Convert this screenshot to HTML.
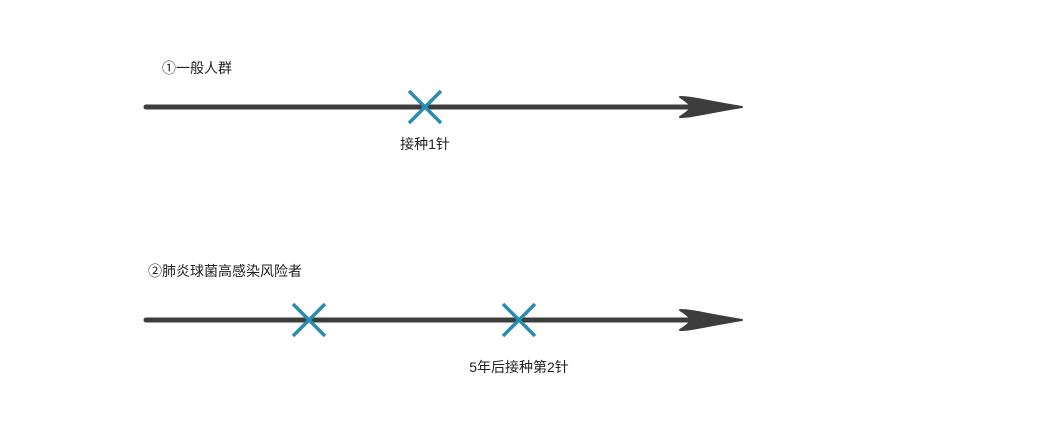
<!DOCTYPE html>
<html><head><meta charset="utf-8"><style>
html,body{margin:0;padding:0;background:#fff;width:1040px;height:435px;overflow:hidden}
svg text{font-family:"Liberation Sans","Noto Sans CJK SC",sans-serif;font-size:14px;fill:#222}
</style></head><body>
<svg width="1040" height="435" viewBox="0 0 1040 435">
<g stroke="#3d3d3d" stroke-width="5" stroke-linecap="round">
<line x1="146" y1="107" x2="690" y2="107"/>
<line x1="146" y1="320" x2="690" y2="320"/>
</g>
<g fill="#3d3d3d" stroke="#3d3d3d" stroke-width="2" stroke-linejoin="round">
<path d="M680,97 C692,97 705,101 742,107 C705,113 692,117 680,117 Q688,112 692,107 Q688,102 680,97 Z"/>
<path d="M680,310 C692,310 705,314 742,320 C705,326 692,330 680,330 Q688,325 692,320 Q688,315 680,310 Z"/>
</g>
<g stroke="#2a8cb4" stroke-width="3.5">
<path d="M409,91 L441,123 M441,91 L409,123"/>
<path d="M293,304 L325,336 M325,304 L293,336"/>
<path d="M503,304 L535,336 M535,304 L503,336"/>
</g>
<text x="162" y="73">①一般人群</text>
<text x="425" y="149" text-anchor="middle">接种1针</text>
<text x="148" y="276">②肺炎球菌高感染风险者</text>
<text x="519" y="372" text-anchor="middle">5年后接种第2针</text>
</svg>
</body></html>
